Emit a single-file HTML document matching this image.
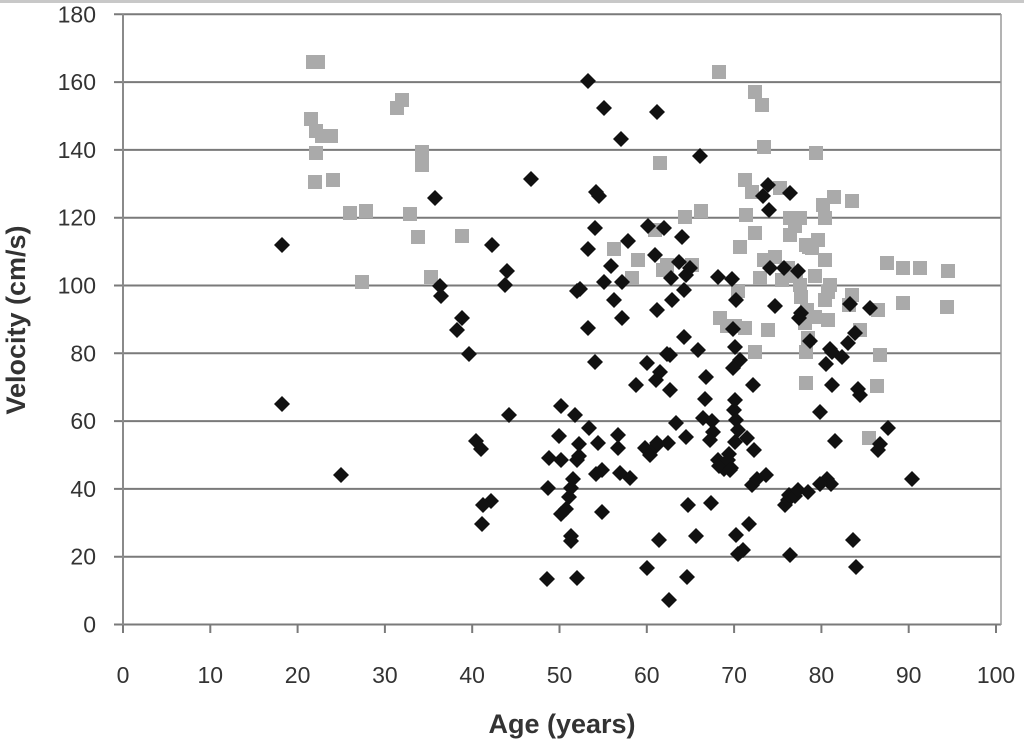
<!DOCTYPE html>
<html><head><meta charset="utf-8"><style>
html,body{margin:0;padding:0;background:#fff;}
svg{display:block;font-family:"Liberation Sans",sans-serif;}
</style></head><body>
<svg id="s" width="1024" height="741" viewBox="0 0 1024 741" xmlns="http://www.w3.org/2000/svg">
<rect x="0" y="0" width="1024" height="3" fill="#c8c8c8"/>
<g id="grid" stroke="#7a7a7a" stroke-width="2"></g>
<line x1="123" y1="14" x2="123" y2="625" stroke="#8a8a8a" stroke-width="2"/>
<line x1="1001" y1="14" x2="1001" y2="625" stroke="#9a9a9a" stroke-width="1.5"/>
<g id="yl" font-size="23" fill="#333" text-anchor="end"></g>
<g id="xl" font-size="23" fill="#333" text-anchor="middle"></g>
<text x="562" y="733" font-size="27" font-weight="bold" fill="#333" text-anchor="middle">Age (years)</text>
<text transform="translate(25,320) rotate(-90)" font-size="27" font-weight="bold" fill="#333" text-anchor="middle">Velocity (cm/s)</text>
<g id="sq" fill="#aaaaaa"></g>
<g id="dm" fill="#111"></g>
</svg>
<script>
var ns="http://www.w3.org/2000/svg";
function el(p,t,a,txt){var e=document.createElementNS(ns,t);for(var k in a)e.setAttribute(k,a[k]);if(txt!=null)e.textContent=txt;document.getElementById(p).appendChild(e);}
for(var i=0;i<=9;i++){var y=624.5-i*67.8;el("grid","line",{x1:114,x2:1001,y1:y,y2:y});el("yl","text",{x:96,y:y+8},String(i*20));}
for(var i=0;i<=10;i++){var x=123+i*87.3;el("grid","line",{x1:x,x2:x,y1:624,y2:633});el("xl","text",{x:x,y:683},String(i*10));}
var S=[[313,62],[318,62],[311,119],[316,131],[316,153],[315,182],[322,136],[331,136],[333,180],[397,108],[402,100],[422,152],[422,165],[410,214],[418,237],[350,213],[366,211],[362,282],[431,277],[462,236],[614,249],[632,278],[660,163],[667,265],[685,217],[692,265],[701,211],[719,72],[755,92],[762,105],[764,147],[745,180],[752,192],[746,215],[740,247],[755,233],[764,260],[780,188],[775,257],[720,318],[727,326],[735,326],[745,328],[755,352],[768,330],[790,218],[800,218],[795,226],[806,245],[812,248],[818,240],[825,218],[823,205],[834,197],[852,201],[816,153],[788,268],[796,276],[801,297],[805,323],[808,338],[806,352],[828,320],[825,300],[830,285],[852,295],[860,330],[849,305],[878,310],[880,355],[887,263],[903,268],[920,268],[948,271],[947,307],[903,303],[806,383],[877,386],[869,438],[655,230],[638,260],[663,270],[790,235],[815,276],[825,260],[809,247],[828,292],[815,317],[738,291],[760,278],[782,280],[800,285],[807,310]];
S.forEach(function(p){el("sq","rect",{x:p[0]-7,y:p[1]-7,width:14,height:14});});
var D=[[282,245],[282,404],[341,475],[435,198],[440,286],[441,296],[457,330],[469,354],[492,245],[507,271],[505,285],[509,415],[476,441],[481,449],[491,501],[483,505],[482,524],[462,318],[531,179],[588,81],[604,108],[621,139],[657,112],[700,156],[595,228],[599,196],[596,192],[628,241],[588,249],[580,289],[577,291],[604,282],[588,328],[595,362],[614,300],[622,318],[622,282],[611,266],[648,226],[664,228],[655,255],[682,237],[684,290],[657,310],[671,278],[672,300],[679,262],[686,275],[690,268],[667,354],[684,337],[636,385],[647,363],[660,372],[670,355],[698,350],[706,377],[703,418],[712,421],[713,432],[710,440],[718,460],[724,469],[719,466],[731,468],[729,454],[735,442],[734,410],[736,420],[738,430],[735,400],[718,277],[732,279],[736,300],[733,329],[735,347],[740,360],[733,368],[753,385],[768,185],[763,196],[769,210],[770,268],[775,306],[784,268],[790,193],[798,271],[801,313],[799,318],[810,341],[820,412],[827,479],[831,484],[835,441],[832,385],[826,364],[830,349],[832,352],[842,357],[848,343],[855,333],[850,304],[858,389],[860,395],[870,308],[880,444],[878,450],[888,428],[912,479],[548,488],[549,458],[561,406],[559,436],[561,460],[561,514],[566,509],[569,497],[571,488],[573,479],[577,460],[579,456],[547,579],[571,536],[571,541],[577,578],[602,512],[596,474],[579,444],[575,415],[589,428],[602,470],[598,443],[620,473],[618,448],[618,435],[630,478],[645,448],[650,455],[656,446],[657,443],[647,568],[659,540],[669,600],[688,505],[687,577],[696,536],[711,503],[736,535],[743,550],[738,554],[749,524],[752,485],[757,479],[766,475],[785,505],[788,500],[789,495],[795,496],[798,490],[808,492],[820,484],[856,567],[853,540],[790,555],[754,450],[747,438],[686,437],[676,423],[670,390],[656,380],[728,460],[730,470],[668,443],[705,399]];
D.forEach(function(p){var x=p[0],y=p[1];el("dm","polygon",{points:(x)+","+(y-8)+" "+(x+8)+","+y+" "+x+","+(y+8)+" "+(x-8)+","+y});});
</script>
</body></html>
